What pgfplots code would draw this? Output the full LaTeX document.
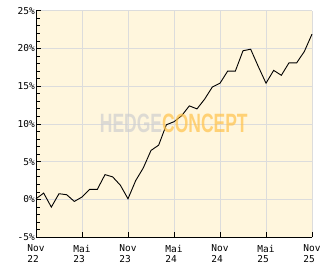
\documentclass[border=0pt]{standalone}
\usepackage{pgfplots}
\pgfplotsset{compat=1.18}
\usepackage{fontspec}
\setmainfont{DejaVu Sans Mono}
\newfontfamily\wm{Liberation Sans}
\definecolor{bg}{HTML}{FFF6DD}
\definecolor{gridc}{HTML}{DCDCDC}
\definecolor{wmgrey}{HTML}{CFCFCF}
\definecolor{wmorange}{HTML}{FFC24A}
\begin{document}
\begin{tikzpicture}[x=1pt,y=1pt]
\path[use as bounding box] (0,0) rectangle (332,269);
\begin{axis}[
  at={(36pt,31.7pt)}, anchor=south west,
  scale only axis, width=276pt, height=226.6pt,
  xmin=0, xmax=36, ymin=-5, ymax=25,
  axis background/.style={fill=bg},
  axis x line*=bottom, axis y line*=left,
  axis line style={-, black, line width=1pt},
  tick align=inside,
  major tick length=5pt, minor tick length=4pt,
  tick style={black, line width=0.8pt},
  ytick={-5,0,5,10,15,20,25},
  minor ytick={-4,-3,-2,-1,1,2,3,4,6,7,8,9,11,12,13,14,16,17,18,19,21,22,23,24},
  yticklabels={-5\%,0\%,5\%,10\%,15\%,20\%,25\%},
  xtick={0,6,12,18,24,30,36},
  xticklabels={{Nov\\22},{Mai\\23},{Nov\\23},{Mai\\24},{Nov\\24},{Mai\\25},{Nov\\25}},
  grid=major,
  major grid style={gridc, line width=1pt},
  xticklabel style={align=left, font=\fontsize{9.5}{10.7}\selectfont, inner sep=1pt, yshift=-6.5pt},
  yticklabel style={font=\fontsize{9.5}{10.7}\selectfont, inner sep=1pt},
  clip=false,
]
\addplot[black, line width=0.9pt] coordinates {
(0,0.1) (1,0.85) (2,-1.0) (3,0.77) (4,0.64) (5,-0.25) (6,0.33) (7,1.35) (8,1.35)
(9,3.3) (10,3.0) (11,1.9) (12,0.1) (13,2.5) (14,4.2) (15,6.5) (16,7.2) (17,9.9)
(18,10.3) (19,11.1) (20,12.4) (21,12.0) (22,13.3) (23,14.9) (24,15.4) (25,17.0)
(26,17.0) (27,19.7) (28,19.9) (29,17.6) (30,15.4) (31,17.1) (32,16.45) (33,18.1)
(34,18.1) (35,19.6) (36,21.9)
};
\end{axis}
\node[opacity=0.7, inner sep=0pt] at (173.8,145.2) {\scalebox{0.66}[1]{\wm\bfseries\fontsize{26.5}{26.5}\selectfont\textcolor{wmgrey}{HEDGE}\textcolor{wmorange}{CONCEPT}}};
\end{tikzpicture}
\end{document}
